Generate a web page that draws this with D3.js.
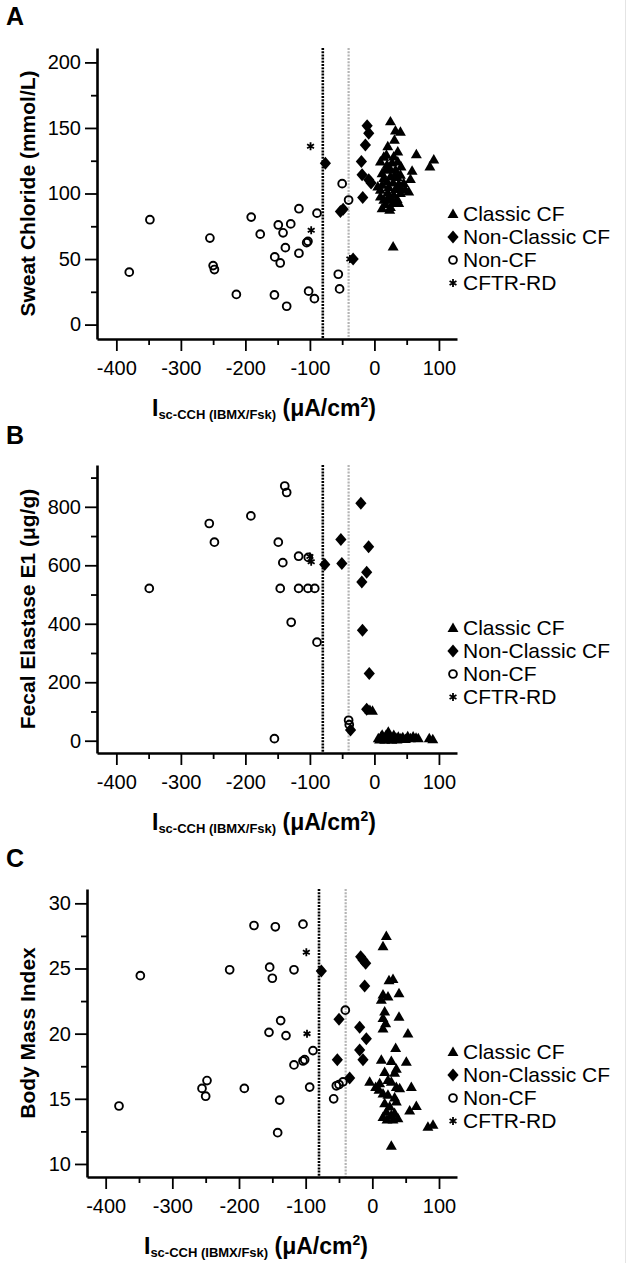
<!DOCTYPE html>
<html><head><meta charset="utf-8">
<script src="https://cdn.jsdelivr.net/npm/d3@7"></script>
<style>
body{margin:0;background:#fff}
svg{display:block}
text{font-family:"Liberation Sans",Arial,Helvetica,sans-serif;fill:#000}
</style>
</head><body>
<svg id="chart" width="631" height="1263"></svg>
<script>
// ---------- data ----------
const legendLabels = ["Classic CF", "Non-Classic CF", "Non-CF", "CFTR-RD"];
const xTicks = [-400, -300, -200, -100, 0, 100];
const xMinorTicks = [-350, -250, -150, -50, 50];
const cutoffBlack = -80;
const cutoffGray = -40;

const yTitleA = "Sweat Chloride (mmol/L)";
const yTicksA = [0, 50, 100, 150, 200];
const yMinorA = [25, 75, 125, 175];
const classicA = [[24.8,155],[32.6,148],[40.3,147],[31,141],[20.7,136],[36.2,132],[14.5,128],[65,130],[92,126],[86,120.6],[9.3,124.4],[27.4,123.7],[41.3,120.6],[58.4,117.3],[55.8,111],[17.1,118],[24.8,113],[35.2,112.5],[11.9,106.6],[40.3,105],[53.2,101.5],[9.3,97.7],[20.7,100.8],[35.2,95.7],[17.1,92],[11.9,88.8],[29.9,92.7],[24.8,89.6],[29,59.5],[19.6,122],[32.6,118],[14.5,111.8],[29,108.4],[37.7,107.4],[22.2,105],[32.6,103.4],[9.3,102.8],[40.3,100.3],[20.7,96.5],[29.9,99],[14.5,95.2],[27.4,95.2],[37.7,92.7],[23.7,87.6],[18.6,129.5],[29.9,128.2],[36.2,124.4],[23.7,119.4],[11.9,115.5],[40.3,114.3],[31,113.5],[45.4,108],[48.1,102.8],[5.2,105.4],[19.6,109.2]];
const nonClassicA = [[-76,123],[-11.3,151.7],[-8.8,146],[-14,137],[-20.2,124.4],[-19.1,114.3],[-8.8,110.5],[-5.2,108],[-18.1,97],[-52.7,86.3],[-48.5,88],[-33,50]];
const nonCFA = [[-348,80],[-380,40],[-255,66],[-250,45],[-248,42],[-214,23],[-191,82],[-177,69],[-155,22.6],[-154.5,51.6],[-149,76],[-146,47],[-141.6,70],[-138,58.7],[-136,14],[-129.7,76.8],[-117,88.4],[-117,54.4],[-105,62.5],[-103,63.5],[-102,25.5],[-93,19.8],[-89,85],[-50,107.5],[-40,95],[-56,38.4],[-54,27.2]];
const cftrRdA = [[-99,136],[-98,72],[-38,50]];

const yTitleB = "Fecal Elastase E1 (\u03BCg/g)";
const yTicksB = [0, 200, 400, 600, 800];
const yMinorB = [100, 300, 500, 700, 900];
const classicB = [[6,8],[10,13.7],[14,8],[18,19.5],[21.5,31],[23,13.7],[25.7,8],[30,19.5],[33.4,10],[37,13.7],[41,8],[51.6,15],[55.7,8],[64.5,10],[68,8],[85,8],[90.5,5],[-7,105],[-3,102],[8,4],[12,20],[16,3],[20,12],[27,3],[29,10],[35,4],[44,12],[48,6],[60,14]];
const nonClassicB = [[-77,603],[-52,688],[-50.5,606],[-21,812],[-9,663],[-12,576],[-19.5,543],[-18.5,378],[-8,230],[-12,108],[-37,37]];
const nonCFB = [[-349,521],[-256,743],[-248,679],[-191.5,769],[-139,871],[-136,849],[-149,679],[-142,609],[-146,521],[-117.5,631],[-102.5,627],[-117.5,521],[-103,521],[-92.5,521],[-129,405],[-89,337],[-155,7],[-40,70],[-39,55]];
const cftrRdB = [[-100,630],[-98,612]];

const yTitleC = "Body Mass Index";
const yTicksC = [10, 15, 20, 25, 30];
const yMinorC = [12.5, 17.5, 22.5, 27.5];
const classicC = [[21,27.5],[16,26.7],[25,24.1],[31,24.2],[40,23.1],[16,23],[13.5,22.6],[23.5,22.85],[18.5,21.7],[40,21.3],[16,21.2],[20,20.8],[16,20.4],[53.4,20],[35,18.9],[13.5,18],[28.5,17.9],[51,17.85],[36,17.3],[33.4,17],[18.5,17.05],[-4,16.3],[5,15.9],[11,16.2],[23.4,16.45],[28.5,16.3],[36,15.9],[41,15.8],[58.5,15.9],[10,15.7],[16,15.4],[23.4,15.3],[33.4,15.1],[36,14.8],[66,14.45],[56,14.1],[18.5,14.66],[26,14.4],[21,14],[28.5,13.76],[33.4,13.9],[16,13.6],[22,13.4],[31,13.4],[38.4,13.5],[83.4,12.86],[91,13],[28.5,11.4]];
const nonClassicC = [[-76.5,24.8],[-17.5,25.9],[-14,25.65],[-10,25.4],[-11.5,23.66],[-50,21.1],[-19,20.5],[-9,19.6],[-19,18.75],[-14,18],[-52.5,18],[-34,16.6]];
const nonCFC = [[-380,14.45],[-348,24.45],[-255.5,15.8],[-248,16.4],[-250,15.2],[-214,24.9],[-192,15.8],[-177.5,28.3],[-145.5,28.2],[-104,28.4],[-154,25.1],[-150,24.25],[-117.5,24.9],[-137.5,21],[-155,20.1],[-129.5,19.85],[-89,18.7],[-101.5,18],[-104,17.9],[-117.5,17.6],[-94,15.9],[-139,14.9],[-142,12.4],[-40.5,21.8],[-50,16.1],[-54,16],[-58,15],[-44,16.3]];
const cftrRdC = [[-99,26.25],[-98,20]];

// ---------- layout ----------
const panels = [
  {letter:"A", letterY:25, yTitle:yTitleA, yTicks:yTicksA, yMinor:yMinorA,
   xDom:[-430,128], xRange:[97,457], yDom:[-11,211], yRange:[339,48],
   titleX:264, series:[classicA, nonClassicA, nonCFA, cftrRdA]},
  {letter:"B", letterY:444, yTitle:yTitleB, yTicks:yTicksB, yMinor:yMinorB,
   xDom:[-430,128], xRange:[97,457], yDom:[-42,943], yRange:[753,465],
   titleX:264, series:[classicB, nonClassicB, nonCFB, cftrRdB]},
  {letter:"C", letterY:867, yTitle:yTitleC, yTicks:yTicksC, yMinor:yMinorC,
   xDom:[-428,127], xRange:[87,457], yDom:[9,31.1], yRange:[1177,889],
   titleX:256, series:[classicC, nonClassicC, nonCFC, cftrRdC]}
];

const svg = d3.select("#chart");
svg.append("rect").attr("width",631).attr("height",1263).attr("fill","#fff");
svg.append("line").attr("x1",625.5).attr("x2",625.5).attr("y1",0).attr("y2",1263)
   .attr("stroke","#e4e4e4").attr("stroke-width",1);

const triPath = d3.symbol(d3.symbolTriangle, 52)();
const diaPath = "M0,-6.5L5.6,0L0,6.5L-5.6,0Z";
const starPath = d3.symbol(d3.symbolAsterisk, 44)();
const fmt = d => (d < 0 ? "-" + Math.abs(d) : String(d));

function drawMarker(g, kind, x, y) {
  if (kind === 0) {
    g.append("path").attr("d", triPath).attr("transform",`translate(${x},${y+0.8})`).attr("fill","#000");
  } else if (kind === 1) {
    g.append("path").attr("d", diaPath).attr("transform",`translate(${x},${y})`).attr("fill","#000");
  } else if (kind === 2) {
    g.append("circle").attr("cx",x).attr("cy",y).attr("r",3.9)
      .attr("fill","none").attr("stroke","#000").attr("stroke-width",1.9);
  } else {
    g.append("path").attr("d", starPath).attr("transform",`translate(${x},${y})`)
      .attr("fill","none").attr("stroke","#000").attr("stroke-width",1.8);
  }
}

panels.forEach(p => {
  const x = d3.scaleLinear().domain(p.xDom).range(p.xRange);
  const y = d3.scaleLinear().domain(p.yDom).range(p.yRange);
  const g = svg.append("g");
  const axisY = p.yRange[0], topY = p.yRange[1], leftX = p.xRange[0];

  // panel letter
  g.append("text").attr("x",6).attr("y",p.letterY).attr("font-size",25)
   .attr("font-weight","bold").text(p.letter);

  // reference lines
  g.append("line").attr("x1",x(cutoffGray)).attr("x2",x(cutoffGray))
   .attr("y1",topY).attr("y2",axisY).attr("stroke","#b4b4b4")
   .attr("stroke-width",2.2).attr("stroke-dasharray","2,1.3");
  g.append("line").attr("x1",x(cutoffBlack)).attr("x2",x(cutoffBlack))
   .attr("y1",topY).attr("y2",axisY).attr("stroke","#000")
   .attr("stroke-width",2.6).attr("stroke-dasharray","2,1.2");

  // x axis
  const xa = g.append("g").attr("transform",`translate(0,${axisY})`)
    .call(d3.axisBottom(x).tickValues(xTicks).tickSize(12).tickSizeOuter(0).tickPadding(10).tickFormat(fmt));
  xa.selectAll("text").attr("font-size",20).attr("font-family","Liberation Sans, Arial, sans-serif");
  const xm = xa.append("g").call(d3.axisBottom(x).tickValues(xMinorTicks).tickSize(6).tickSizeOuter(0).tickFormat(() => ""));
  xm.select(".domain").remove();
  xm.selectAll("text").remove();
  xa.selectAll(".domain").attr("stroke-width",2.6);
  xa.selectAll(".tick line").attr("stroke-width",1.8);

  // y axis
  const ya = g.append("g").attr("transform",`translate(${leftX},0)`)
    .call(d3.axisLeft(y).tickValues(p.yTicks).tickSize(12).tickSizeOuter(0).tickPadding(4).tickFormat(fmt));
  ya.selectAll("text").attr("font-size",20).attr("font-family","Liberation Sans, Arial, sans-serif");
  const ym = ya.append("g").call(d3.axisLeft(y).tickValues(p.yMinor).tickSize(6).tickSizeOuter(0).tickFormat(() => ""));
  ym.select(".domain").remove();
  ym.selectAll("text").remove();
  ya.selectAll(".domain").attr("stroke-width",2.6);
  ya.selectAll(".tick line").attr("stroke-width",1.8);

  // y title
  g.append("text").attr("transform",`translate(35,${(axisY+topY)/2}) rotate(-90)`)
   .attr("text-anchor","middle").attr("font-size",21).attr("font-weight","bold").text(p.yTitle);

  // x title
  const xt = g.append("text").attr("x",p.titleX).attr("y",axisY+77)
    .attr("text-anchor","middle").attr("font-weight","bold").attr("font-size",23);
  xt.append("tspan").text("I");
  xt.append("tspan").attr("font-size",13).attr("dy",3).text("sc-CCH (IBMX/Fsk)");
  xt.append("tspan").attr("dy",-3).text(" (\u03BCA/cm");
  xt.append("tspan").attr("font-size",14).attr("dy",-9).text("2");
  xt.append("tspan").attr("dy",9).text(")");

  // points: non-CF, CFTR-RD, non-classic, classic
  const pts = g.append("g");
  [2,3,1,0].forEach(k => {
    p.series[k].forEach(d => drawMarker(pts, k, x(d[0]), y(d[1])));
  });

  // legend
  legendLabels.forEach((lab, i) => {
    const ly = axisY - 56 - (3 - i) * 23;
    drawMarker(g, i, 453, ly);
    g.append("text").attr("x",463).attr("y",ly+7).attr("font-size",21).text(lab);
  });
});
</script>
</body></html>
